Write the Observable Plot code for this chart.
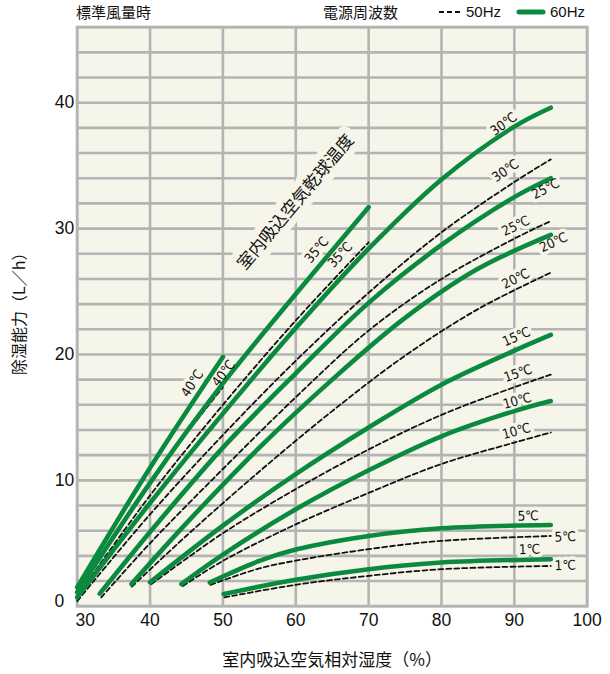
<!DOCTYPE html>
<html><head><meta charset="utf-8">
<script src="https://cdn.jsdelivr.net/npm/d3@7"></script>
<script src="https://cdn.jsdelivr.net/npm/@observablehq/plot@0.6"></script>
<style>
html,body{margin:0;padding:0;background:#fff;}
body{width:610px;font-family:"Liberation Sans","Noto Sans CJK JP",sans-serif;color:#111;}
#hdr{position:relative;height:22px;width:610px;font-size:15px;}
#hdr span{position:absolute;top:3px;line-height:18px;white-space:nowrap;}
#hdr .jp{font-family:"Noto Sans CJK JP",sans-serif;}
#hdr svg{position:absolute;}
#chart svg{display:block;}
</style></head><body>
<div id="hdr">
  <span class="jp" style="left:76px">標準風量時</span>
  <span class="jp" style="left:323px">電源周波数</span>
  <svg style="left:438px;top:10px" width="26" height="4"><line x1="1" y1="2" x2="24" y2="2" stroke="#111" stroke-width="2" stroke-dasharray="5,3"/></svg>
  <span style="left:466px">50Hz</span>
  <svg style="left:516px;top:9px" width="30" height="6"><line x1="3" y1="3" x2="27" y2="3" stroke="#0a8a3e" stroke-width="5" stroke-linecap="round"/></svg>
  <span style="left:550px">60Hz</span>
</div>
<div id="chart"></div>
<script>
// ---- data (x = 室内吸込空気相対湿度 %, y = 除湿能力 L/h) ----
const temps = [40, 35, 30, 25, 20, 15, 10, 5, 1];

// 60Hz curves
const g40 = [[30,1.5],[40,11.0],[50,19.8]];
const g35 = [[30,1.1],[40,9.8],[50,17.7],[60,24.8],[70,31.7]];
const g30 = [[30,0.7],[40,8.2],[50,15.3],[60,22.1],[70,28.4],[80,33.9],[90,38.1],[95,39.6]];
const g25 = [[33.1,1.0],[40,5.9],[50,12.6],[60,18.5],[70,24.1],[80,28.7],[90,32.5],[95,34.0]];
const g20 = [[37.45,1.76],[45,6.6],[55,12.6],[65,18.0],[75,22.9],[85,26.8],[95,29.5]];
const g15 = [[40,1.9],[50,6.4],[60,10.5],[70,14.2],[80,17.6],[90,20.3],[95,21.55]];
const g10 = [[44.3,1.76],[50,4.1],[60,7.7],[70,10.8],[80,13.5],[90,15.5],[95,16.3]];
const g5  = [[48.2,1.88],[55,3.6],[60,4.5],[70,5.58],[80,6.19],[95,6.45]];
const g1  = [[50.1,0.97],[60,2.1],[70,2.94],[80,3.47],[95,3.73]];

// 50Hz curves
const d40 = [[30,1.2],[40,9.9],[50,17.4]];
const d35 = [[30,0.8],[40,8.8],[50,16.0],[60,22.7],[70,28.9]];
const d30 = [[30,0.4],[40,7.3],[50,13.6],[60,19.5],[70,24.9],[80,29.7],[90,33.7],[95,35.5]];
const d25 = [[33.3,0.7],[40,5.0],[50,10.9],[60,16.6],[70,21.9],[80,26.0],[90,29.2],[95,30.6]];
const d20 = [[37.5,1.55],[45,5.6],[55,10.7],[65,15.5],[75,19.9],[85,23.6],[95,26.5]];
const d15 = [[40.2,1.76],[50,5.8],[60,9.3],[70,12.45],[80,15.2],[90,17.4],[95,18.4]];
const d10 = [[44.5,1.6],[50,3.6],[60,6.5],[70,9.0],[80,11.3],[90,13.0],[95,13.8]];
const d5  = [[48.3,1.7],[55,3.0],[60,3.62],[70,4.53],[80,5.19],[95,5.58]];
const d1  = [[50.2,0.7],[60,1.7],[70,2.41],[80,2.94],[95,3.2]];

// label anchors (data units): [temp, x, y]
const labels60 = [[40,45.8,17.7],[35,62.9,28.3],[30,88.55,38.3],[25,94.3,33.15],[20,95.4,28.9],[15,90.3,21.4],[10,90.4,16.3],[5,91.9,7.15],[1,92.1,4.5]];
const labels50 = [[40,50.1,18.5],[35,66.1,27.9],[30,88.8,34.6],[25,90.2,30.2],[20,90.2,26.0],[15,90.5,18.5],[10,90.3,13.9],[5,97.0,5.5],[1,97.0,3.23]];
const bigLabel = {text: "室内吸込空気乾球温度", x: 60.0, y: 32.1};

const xTicks = [30, 40, 50, 60, 70, 80, 90, 100];
const yTicks = [0, 10, 20, 30, 40];
const xGrid = [40, 50, 60, 70, 80, 90];
const yGrid = d3.range(2, 46, 2);
const xTitle = "室内吸込空気相対湿度（%）";
const yTitle = "除湿能力（L／h）";

// ---- build tables ----
const curves60 = [g40, g35, g30, g25, g20, g15, g10, g5, g1];
const curves50 = [d40, d35, d30, d25, d20, d15, d10, d5, d1];
const rows = [];
temps.forEach((t, i) => {
  curves60[i].forEach(([x, y]) => rows.push({hz: 60, t, key: "60-" + t, x, y}));
  curves50[i].forEach(([x, y]) => rows.push({hz: 50, t, key: "50-" + t, x, y}));
});

const W = 610, H = 652, mL = 76.7, mR = 23.3, mT = 4.7, mB = 68.3;
const kx = (W - mL - mR) / 70, ky = (H - mT - mB) / 46;
function slopeAt(pts, x) {
  let i = pts.findIndex((p, j) => j < pts.length - 1 && x >= p[0] && x <= pts[j + 1][0]);
  if (i < 0) i = x < pts[0][0] ? 0 : pts.length - 2;
  const [a, b] = [pts[i], pts[i + 1]];
  return (b[1] - a[1]) / (b[0] - a[0]);
}
const labelRows = [];
labels60.forEach(([t, x, y]) => {
  const s = slopeAt(curves60[temps.indexOf(t)], x);
  labelRows.push({text: t + "℃", x, y, r: -Math.atan(s * ky / kx) * 180 / Math.PI});
});
labels50.forEach(([t, x, y]) => {
  const s = slopeAt(curves50[temps.indexOf(t)], x);
  labelRows.push({text: t + "℃", x, y, r: -Math.atan(s * ky / kx) * 180 / Math.PI});
});

const BG = "#f6f5e9", GRID = "#b4b4b4", GREEN = "#0a8a3e", INK = "#111";
const NUM = "Liberation Sans, Arial, sans-serif";
const JP = "Noto Sans CJK JP, sans-serif";
const SMALL = "Liberation Sans Narrow, DejaVu Sans Condensed, Noto Sans CJK JP, sans-serif";

const chart = Plot.plot({
  width: W, height: H,
  marginLeft: mL, marginRight: mR, marginTop: mT, marginBottom: mB,
  x: {domain: [30, 100], label: null},
  y: {domain: [0, 46], label: null},
  style: {fontFamily: NUM, fontSize: "17.5px", color: INK, background: "transparent"},
  marks: [
    Plot.frame({fill: BG, stroke: null}),
    Plot.ruleX(xGrid, {stroke: GRID, strokeWidth: 2.6}),
    Plot.ruleY(yGrid, {stroke: GRID, strokeWidth: 2.6}),
    Plot.frame({stroke: GRID, strokeWidth: 3}),
    // halos
    Plot.text([bigLabel], {x: "x", y: "y", text: "text", rotate: -50, fontFamily: JP, fontSize: 17, fill: BG, stroke: BG, strokeWidth: 14}),
    Plot.text(labelRows, {x: "x", y: "y", text: "text", rotate: "r", fontFamily: SMALL, fontSize: 13.5, fill: BG, stroke: BG, strokeWidth: 7}),
    // curves
    Plot.line(rows.filter(d => d.hz === 50), {x: "x", y: "y", z: "key", stroke: INK, strokeWidth: 1.8, strokeDasharray: "5,3", curve: "catmull-rom"}),
    Plot.line(rows.filter(d => d.hz === 60), {x: "x", y: "y", z: "key", stroke: GREEN, strokeWidth: 4.6, strokeLinecap: "round", curve: "catmull-rom"}),
    // text
    Plot.text([bigLabel], {x: "x", y: "y", text: "text", rotate: -50, fontFamily: JP, fontSize: 17, fill: INK}),
    Plot.text(labelRows, {x: "x", y: "y", text: "text", rotate: "r", fontFamily: SMALL, fontSize: 13.5, fill: INK}),
    // axes
    Plot.axisX(xTicks.slice(1), {tickSize: 0, tickPadding: 7, label: null, fontSize: 17.5}),
    Plot.axisX(xTicks.slice(0, 1), {tickSize: 0, tickPadding: 7, label: null, fontSize: 17.5, dx: 8}),
    Plot.axisY(yTicks.slice(1), {tickSize: 0, tickPadding: 3, label: null, fontSize: 17.5}),
    Plot.axisY(yTicks.slice(0, 1), {tickSize: 0, tickPadding: 3, label: null, fontSize: 17.5, dx: -10, dy: -5}),
    Plot.text([yTitle], {frameAnchor: "left", textAnchor: "middle", lineAnchor: "middle", dx: -57, dy: -7, rotate: -90, fontFamily: JP, fontSize: 16, fill: INK}),
    Plot.text([xTitle], {frameAnchor: "bottom", textAnchor: "middle", lineAnchor: "middle", dy: 54.3, fontFamily: JP, fontSize: 17, fill: INK})
  ]
});
document.getElementById("chart").appendChild(chart);
</script>
</body></html>
